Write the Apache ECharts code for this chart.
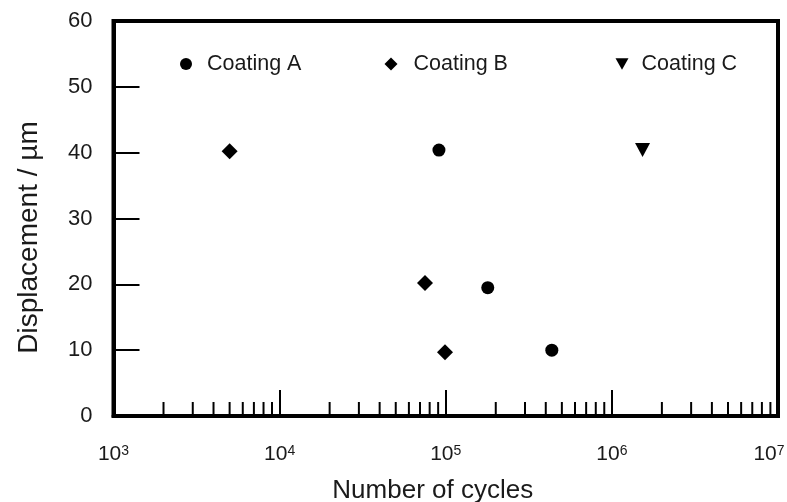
<!DOCTYPE html>
<html>
<head>
<meta charset="utf-8">
<script src="https://cdn.jsdelivr.net/npm/echarts@6/dist/echarts.min.js"></script>
<style>
  html, body { margin: 0; padding: 0; background: #fff; }
  #chart { width: 787px; height: 502px; }
</style>
</head>
<body>
<div id="chart"></div>
<script>
// Fatigue test results: number of cycles vs. displacement amplitude
const seriesNames = ['Coating A', 'Coating B', 'Coating C'];
const coatingA = [[9.1e4, 40.4], [1.79e5, 19.5], [4.35e5, 10.0]];
const coatingB = [[5.0e3, 40.2], [7.5e4, 20.2], [9.9e4, 9.7]];
const coatingC = [[1.53e6, 40.4]];
const xDecades = [1e3, 1e4, 1e5, 1e6, 1e7];
const yTicks = [0, 10, 20, 30, 40, 50, 60];
const minorMultipliers = [2, 3, 4, 5, 6, 7, 8, 9];

// minor tick positions inside each decade (2x..9x)
const minorTickValues = [];
xDecades.slice(0, -1).forEach(d => minorMultipliers.forEach(m => minorTickValues.push([m * d, 0])));

const FONT = 'Liberation Sans, Arial, sans-serif';
const TXT = '#1a1a1a';
const triPath = 'path://M0,0 L10,0 L5,9 Z';

const chart = echarts.init(document.getElementById('chart'), null, { renderer: 'canvas' });

const legendText = pad => ({ fontFamily: FONT, fontSize: 21.5, color: TXT, padding: [0, 0, 0, pad] });
const legendBase = {
  orient: 'horizontal',
  top: 48,
  itemWidth: 13,
  itemHeight: 13,
  selectedMode: false
};

chart.setOption({
  animation: false,
  backgroundColor: '#fff',
  grid: {
    left: 113.5, right: 9, top: 21, bottom: 86,
    outerBoundsMode: 'none',
    containLabel: false,
    show: true, borderColor: '#000', borderWidth: 4, backgroundColor: 'transparent'
  },
  legend: [
    Object.assign({}, legendBase, { left: 175, itemWidth: 12, itemHeight: 12, textStyle: legendText(10), data: [seriesNames[0]] }),
    Object.assign({}, legendBase, { left: 379.5, textStyle: legendText(11), data: [seriesNames[1]] }),
    Object.assign({}, legendBase, { left: 610.5, itemHeight: 12, textStyle: legendText(8), data: [seriesNames[2]] })
  ],
  xAxis: {
    type: 'log',
    logBase: 10,
    min: xDecades[0],
    max: xDecades[xDecades.length - 1],
    name: 'Number of cycles',
    nameLocation: 'middle',
    nameGap: 62,
    nameTextStyle: { fontFamily: FONT, fontSize: 26, color: TXT, padding: [0, 26, 0, 0] },
    axisLine: { show: true, lineStyle: { color: '#000', width: 4 } },
    axisTick: { show: true, inside: true, length: 26, lineStyle: { color: '#000', width: 2 } },
    splitLine: { show: false },
    axisLabel: {
      margin: 28,
      formatter: v => {
        const e = Math.round(Math.log10(v));
        // the last label sits a little inside the right frame
        return e === 7 ? '{b|10}{t|' + e + '}' : '{b|10}{s|' + e + '}';
      },
      rich: {
        b: { fontFamily: FONT, fontSize: 21, color: TXT },
        s: { fontFamily: FONT, fontSize: 14, color: TXT, verticalAlign: 'top' },
        t: { fontFamily: FONT, fontSize: 14, color: TXT, verticalAlign: 'top', padding: [0, 18, 0, 0] }
      }
    }
  },
  yAxis: {
    type: 'value',
    min: 0,
    max: 60,
    interval: 10,
    name: 'Displacement / µm',
    nameLocation: 'middle',
    nameGap: 70,
    nameTextStyle: { fontFamily: FONT, fontSize: 28, color: TXT, padding: [0, 38, 0, 0] },
    axisLine: { show: true, lineStyle: { color: '#000', width: 4 } },
    axisTick: { show: true, inside: true, length: 26, lineStyle: { color: '#000', width: 2 } },
    splitLine: { show: false },
    axisLabel: {
      margin: 21,
      fontFamily: FONT, fontSize: 22, color: TXT,
      formatter: v => yTicks.includes(v) ? String(v) : ''
    }
  },
  series: [
    {
      name: seriesNames[0], type: 'scatter', data: coatingA,
      symbol: 'circle', symbolSize: 13,
      itemStyle: { color: '#000', opacity: 1 }
    },
    {
      name: seriesNames[1], type: 'scatter', data: coatingB,
      symbol: 'diamond', symbolSize: 16,
      itemStyle: { color: '#000', opacity: 1 }
    },
    {
      name: seriesNames[2], type: 'scatter', data: coatingC,
      symbol: triPath, symbolSize: [15, 14],
      itemStyle: { color: '#000', opacity: 1 }
    },
    {
      // short minor ticks along the bottom axis
      type: 'custom',
      silent: true,
      data: minorTickValues,
      renderItem: (params, api) => {
        const p = api.coord([api.value(0), api.value(1)]);
        return {
          type: 'line',
          shape: { x1: p[0], y1: p[1], x2: p[0], y2: p[1] - 14 },
          style: { stroke: '#000', lineWidth: 2 }
        };
      },
      z: 3
    }
  ]
});
</script>
</body>
</html>
